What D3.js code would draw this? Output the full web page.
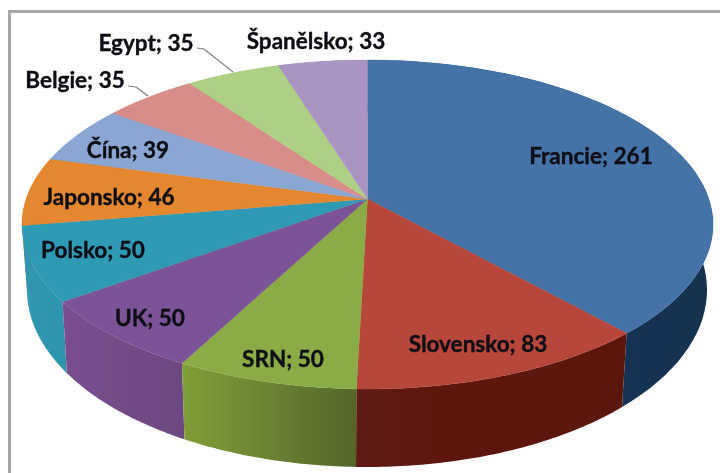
<!DOCTYPE html>
<html><head><meta charset="utf-8">
<script src="https://cdn.jsdelivr.net/npm/d3@7"></script>
<style>html,body{margin:0;padding:0;background:#fff}svg{display:block}</style>
</head><body><svg id="c" width="720" height="473"></svg>
<script>
const categories=["Francie","Slovensko","SRN","UK","Polsko","Japonsko","Čína","Belgie","Egypt","Španělsko"];
const values=[261,83,50,50,50,46,39,35,35,33];
const topColors=["#4473a8","#b8463a","#8aab45","#7c5396","#2f9ab4","#e5872f","#8aa7d3","#d88d8b","#add085","#a994c4"];
const wallFrom=["#1a3c62","#5f1a12","#7f9f38","#7a4f90","#3096b0","#d07a28","#7a97c0","#c07c7a","#9cbc78","#9884b0"];
const wallTo=["#12304f","#5a170f","#55652b","#6b4780","#2f93ad","#d07a28","#7a97c0","#c07c7a","#9cbc78","#9884b0"];
const labelAt=[[591,155],[478,343],[283,358],[150,317],[93,249],[109,196],[128,149],[75,79],[146,42],[316,40]];
const leaders=[[[197,48],[204,49],[233,72]],[[128,86],[136,87],[148,96]]];

const svg=d3.select("#c");
const defs=svg.append("defs");
defs.append("filter").attr("id","soft").append("feGaussianBlur").attr("stdDeviation",0.45);

const pie=d3.pie().sort(null).value(d=>d)(values);
const tilt=-0.155;
const project=a=>{
  const u=Math.sin(a),v=-Math.cos(a),w=1+tilt*v;
  return [u*Math.sqrt(1-tilt*tilt)/w,(v+tilt)/w];
};
const topX=d3.scaleLinear([-1,1],[22,713]), topY=d3.scaleLinear([-1,1],[60,389]);
const botX=d3.scaleLinear([-1,1],[27,707]), botY=d3.scaleLinear([-1,1],[113,467]);
const onTop=a=>{const p=project(a);return [topX(p[0]),topY(p[1])]};
const onBot=a=>{const p=project(a);return [botX(p[0]),botY(p[1])]};
const apex=[topX(0),topY(tilt)];
const line=d3.line();
const steps=(s,e)=>d3.range(0,61).map(i=>s+(e-s)*i/60);

pie.forEach((d,i)=>{
  const g=defs.append("linearGradient").attr("id","w"+i);
  g.append("stop").attr("offset",0).attr("stop-color",wallFrom[i]);
  g.append("stop").attr("offset",1).attr("stop-color",wallTo[i]);
});
const mid=d=>(d.startAngle+d.endAngle)/2;
const order=pie.map((d,i)=>i).sort((a,b)=>onTop(mid(pie[a]))[1]-onTop(mid(pie[b]))[1]);

const walls=svg.append("g").attr("filter","url(#soft)");
order.forEach(i=>{
  const d=pie[i],as=steps(d.startAngle,d.endAngle);
  const pts=as.map(onTop).concat(as.slice().reverse().map(onBot));
  walls.append("path").attr("d",line(pts)+"Z").attr("fill","url(#w"+i+")");
});
const faces=svg.append("g").attr("filter","url(#soft)");
pie.forEach((d,i)=>{
  const pts=[apex].concat(steps(d.startAngle,d.endAngle).map(onTop));
  faces.append("path").attr("d",line(pts)+"Z").attr("fill",topColors[i]).attr("stroke",topColors[i]).attr("stroke-width",0.4);
});

svg.append("g").selectAll("path").data(leaders).join("path")
  .attr("d",d=>line(d)).attr("fill","none").attr("stroke","#7f7f7f").attr("stroke-width",1.2);

svg.append("g").attr("filter","url(#soft)").selectAll("text").data(categories).join("text")
  .attr("x",(d,i)=>labelAt[i][0]).attr("y",(d,i)=>labelAt[i][1])
  .attr("text-anchor","middle").attr("dominant-baseline","central")
  .attr("font-family","Lato, 'Open Sans', sans-serif").attr("font-weight",700).attr("font-size",22.5)
  .attr("fill","#0c0c14").attr("stroke","#0c0c14").attr("stroke-width",0.35)
  .text((d,i)=>d+"; "+values[i]);

svg.append("path").attr("d","M9.5,473V11.5H720").attr("fill","none").attr("stroke","#a6a6a6").attr("stroke-width",3);
</script></body></html>
